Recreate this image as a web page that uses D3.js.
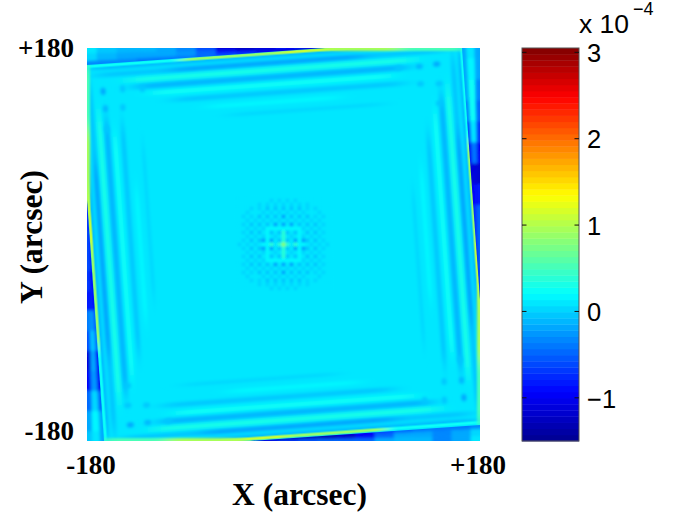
<!DOCTYPE html>
<html><head><meta charset="utf-8">
<style>html,body{margin:0;padding:0;background:#fff;overflow:hidden}svg{display:block}</style>
<script src="https://cdn.jsdelivr.net/npm/d3@7"></script></head><body>
<svg id="c" width="683" height="513"></svg>
<script>
// ---- data (arcsec / units of 1e-4) ----
const xDomain = [-180, 180];
const yDomain = [-180, 180];
const colorDomain = [-1.5, 3.05];
const colorTicks = [-1, 0, 1, 2, 3];
const baseValue = 0.07;
const tiltDegrees = 4.1;
const squareHalf = 176.8;

// bands parallel to each side of the tilted square
const bandDepth = [3.5, 10, 10, 16.5, 23, 30, 37.5, 46, 55];
const bandWidth = [3.5, 4.5, 4.5, 4, 5, 4, 4, 4, 3];
const bandFrom  = [-165, -160, -90, -130, -125, -110, -90, -60, -40];
const bandTo    = [165, 160, 85, 130, 125, 110, 120, 60, 100];
const bandValue = [-0.13, -0.06, -0.22, 0.32, -0.08, 0.25, -0.03, 0.17, 0.03];

// small dark spots close to each corner
const spotA = [22, 40, 23, 39, 58, 23];
const spotB = [25, 24, 41, 41, 25, 60];
const spotValue = [-0.18, -0.06, -0.14, -0.05, -0.02, -0.06];

// thin line right on the tilted edge
const rimFrom  = [-172, -80, 10];
const rimTo    = [-80, 10, 80];
const rimValue = [0.25, 0.85, 1.1];

// glow on the plot frame beyond each wedge tip
const glowFrom  = [38, 105];
const glowTo    = [105, 165];
const glowValue = [0.95, 0.5];

// wedge outside the tilted square: corner points in arcsec, then three rows of values along it
const wedgeEdgeStart = [[-180, 164.4], [163.5, 180], [180, -165.3], [-164.4, -180]];
const wedgeEdgeEnd   = [[38, 180], [180, -50.8], [-30.7, -180], [-180, 40.8]];
const wedgeTipBase   = [[-180, 180], [180, 180], [180, -180], [-180, -180]];
const wedgeTopNear  = [-.35,-.35,-.35,-.38,-.38,-.4,-.5,-.6,-.7,-.9,-1.1,-1.3,-1.35];
const wedgeTopMid   = [.05,-.1,-.15,-.18,-.2,-.28,-.45,-.8,-1.0,-1.1,-1.2,-1.2,-1.3];
const wedgeTopFar   = [.12,-.05,-.12,-.12,-.15,-.35,-.6,-1.1,-1.25,-1.1,-.9,-.8,-.7];
const wedgeRightNear = [-.15,-.15,-.2,-.3,-.7,-1.0,-1.1,-1.0,-.9,-.9,-.9,-.9,-.9];
const wedgeRightMid  = [.1,.2,.25,.25,.1,-.4,-1.1,-.9,-.6,-.6,-.7,-.7,-.8];
const wedgeRightFar  = [-.15,-.2,-.3,-.45,-.7,-1.0,-1.15,-.8,-.45,-.45,-.5,-.6,-.7];
const wedgeBottomNear = [-.35,-.38,-.4,-.4,-.45,-.6,-1.0,-1.2,-1.3,-1.35,-1.3,-1.3,-1.3];
const wedgeBottomMid  = [0,-.2,-.3,-.2,-.2,-.45,-1.0,-1.2,-1.25,-1.2,-1.2,-1.2,-1.2];
const wedgeBottomFar  = [.12,-.2,-.35,-.12,-.08,-.2,-.5,-.5,-.5,-.55,-.7,-.8,-.9];
const wedgeLeftNear = [-.2,-.2,-.45,-1.0,-1.0,-.45,-.55,-.9,-1.0,-.9,-.8,-.9,-.9];
const wedgeLeftMid  = [.12,.15,.05,-.25,-.15,-.05,-.25,-.8,-.8,-.7,-.7,-.8,-.9];
const wedgeLeftFar  = [-.05,-.2,-.5,-1.0,-1.1,-.6,-.4,-.8,-.7,-.6,-.6,-.7,-.9];

// central pattern: upper half of a cell grid, lower half is its mirror
const moireCell = 3.66;
const moireTop = [
 ".........................",
 ".........-.-.-.-.........",
 "......-.-.-.-.-.-.-......",
 "....-.-.=.=.=.=.=.-.-....",
 "...-...-.-.-.-.-.-...-...",
 "..-.-.=.=.=.#.=.=.=.-.-..",
 "...-.-.-.-.-.-.-.-.-.-...",
 "..-.=.=.=.#.#.#.=.=.=.-..",
 "...-.-.-+++++++++-.-.-...",
 "..-.=.=.+=.=o=.=+.=.=.-..",
 "...-.-.-+.-.o.-.+-.-.-...",
 "..-.=.=#+#.=o=.#+#=.=.-..",
 ".-.-.-.++o.o*o.o++.-.-.-."
];
const moireLevels = {".":0.07, "-":0.03, "=":-0.05, "#":-0.15, "+":0.15, "o":0.35, "*":0.8};

// text
const xTickLabels = ["-180", "+180"];
const yTickLabels = ["-180", "+180"];
const xTitle = "X (arcsec)";
const yTitle = "Y (arcsec)";

// ---- scales ----
const plot = {l:87, r:480, t:48, b:441};
const x = d3.scaleLinear().domain(xDomain).range([plot.l, plot.r]);
const y = d3.scaleLinear().domain(yDomain).range([plot.b, plot.t]);
const cx = x(0), cy = y(0);
const jet = d3.scaleLinear()
  .domain([0, .125, .375, .625, .875, 1])
  .range(["#00008f", "#0000ff", "#00ffff", "#ffff00", "#ff0000", "#800000"])
  .interpolate(d3.interpolateRgb);
const levels = d3.range(64).map(i => jet((i + .5) / 64));
const color = d3.scaleQuantize().domain(colorDomain).range(levels);

const svg = d3.select("#c");
const defs = svg.append("defs");
function blur(id, s) {
  defs.append("filter").attr("id", id).attr("filterUnits", "userSpaceOnUse")
    .attr("x", -200).attr("y", -200).attr("width", 1100).attr("height", 1000)
    .append("feGaussianBlur").attr("stdDeviation", s);
}
blur("band", "10 1.5"); blur("spot", "1.4"); blur("moire", "1.0"); blur("rim", "6 0.6");
blur("glow", "8 0.9"); blur("wedge", "1.6");
defs.append("clipPath").attr("id", "plotClip").append("rect")
  .attr("x", plot.l).attr("y", plot.t).attr("width", plot.r - plot.l).attr("height", plot.b - plot.t);

const field = svg.append("g").attr("clip-path", "url(#plotClip)");
field.append("rect").attr("x", plot.l).attr("y", plot.t)
  .attr("width", plot.r - plot.l).attr("height", plot.b - plot.t).attr("fill", color(baseValue));

const quarterTurns = [0, 90, 180, 270];
const tilted = field.append("g").attr("transform", `rotate(${-tiltDegrees},${cx},${cy})`);

// bands
quarterTurns.forEach(a => {
  const g = tilted.append("g").attr("transform", `rotate(${a},${cx},${cy})`).append("g").attr("filter", "url(#band)");
  g.selectAll("rect").data(bandDepth).join("rect")
    .attr("x", (d, i) => x(bandFrom[i]))
    .attr("width", (d, i) => x(bandTo[i]) - x(bandFrom[i]))
    .attr("y", (d, i) => y(squareHalf - d) - (x(bandWidth[i]) - x(0)) / 2)
    .attr("height", (d, i) => x(bandWidth[i]) - x(0))
    .attr("fill", (d, i) => color(bandValue[i]));
});
// corner spots
quarterTurns.forEach(a => {
  const g = tilted.append("g").attr("transform", `rotate(${a},${cx},${cy})`).append("g").attr("filter", "url(#spot)");
  g.selectAll("ellipse").data(spotA).join("ellipse")
    .attr("cx", d => x(-squareHalf + d))
    .attr("cy", (d, i) => y(squareHalf - spotB[i]))
    .attr("rx", 2.6).attr("ry", 3.6)
    .attr("fill", (d, i) => color(spotValue[i]));
});

// central pattern
const moire = moireTop.concat(moireTop.slice(0, 12).reverse());
const cellPx = x(moireCell) - x(0);
const mg = field.append("g").attr("filter", "url(#moire)");
moire.forEach((row, r) => {
  mg.append("g").selectAll("rect").data(row.split("")).join("rect")
    .attr("x", (d, c) => x((c - 12.5) * moireCell))
    .attr("y", y((12.5 - r) * moireCell))
    .attr("width", cellPx + .3).attr("height", cellPx + .3)
    .attr("fill", d => color(moireLevels[d]));
});

// edge line
quarterTurns.forEach(a => {
  const g = tilted.append("g").attr("transform", `rotate(${a},${cx},${cy})`).append("g").attr("filter", "url(#rim)");
  g.selectAll("rect").data(rimFrom).join("rect")
    .attr("x", d => x(d))
    .attr("width", (d, i) => x(rimTo[i]) - x(d))
    .attr("y", y(squareHalf))
    .attr("height", 3)
    .attr("fill", (d, i) => color(rimValue[i]));
});
// frame glow
quarterTurns.forEach(a => {
  const g = field.append("g").attr("transform", `rotate(${a},${cx},${cy})`).append("g").attr("filter", "url(#glow)");
  g.selectAll("rect").data(glowFrom).join("rect")
    .attr("x", d => x(d))
    .attr("width", (d, i) => x(glowTo[i]) - x(d))
    .attr("y", y(180) - 5)
    .attr("height", 8)
    .attr("fill", (d, i) => color(glowValue[i]));
});

// wedges
const wedgeRows = [
  [wedgeTopNear, wedgeTopMid, wedgeTopFar],
  [wedgeRightNear, wedgeRightMid, wedgeRightFar],
  [wedgeBottomNear, wedgeBottomMid, wedgeBottomFar],
  [wedgeLeftNear, wedgeLeftMid, wedgeLeftFar]
];
const rowBreaks = [0, .25, .7, 1];
const px = p => [x(p[0]), y(p[1])];
wedgeRows.forEach((rows, w) => {
  const e0 = px(wedgeEdgeStart[w]), e1 = px(wedgeEdgeEnd[w]);
  const tipBase = px(wedgeTipBase[w]);
  const vertical = w % 2 === 1;
  const onFrame = p => vertical ? [tipBase[0], p[1]] : [p[0], tipBase[1]];
  const n = rows[0].length - 1;
  const clipId = "wedgeClip" + w;
  const tri = [e0, e1, onFrame(e0)];
  defs.append("clipPath").attr("id", clipId).append("polygon")
    .attr("points", tri.map(p => p.join(",")).join(" "));
  const g = field.append("g").attr("clip-path", `url(#${clipId})`).append("g").attr("filter", "url(#wedge)");
  const outward = vertical ? Math.sign(tipBase[0] - cx) : Math.sign(tipBase[1] - cy);
  const point = (f, t) => {
    const ff = Math.min(1.15, Math.max(-.15, f));
    const p = [e0[0] + (e1[0] - e0[0]) * ff, e0[1] + (e1[1] - e0[1]) * ff];
    const q = onFrame(p);
    const r = [p[0] + (q[0] - p[0]) * t, p[1] + (q[1] - p[1]) * t];
    const extra = t === 0 ? -8 : t === 1 ? 8 : 0;
    if (vertical) r[0] += outward * extra; else r[1] += outward * extra;
    return r;
  };
  rows.forEach((vals, j) => {
    const t0 = rowBreaks[j], t1 = rowBreaks[j + 1];
    vals.forEach((v, i) => {
      const f0 = (i - .5) / n, f1 = (i + .5) / n;
      const pts = [point(f0, t0), point(f1, t0), point(f1, t1), point(f0, t1)];
      g.append("polygon").attr("points", pts.map(p => p.join(",")).join(" "))
        .attr("fill", color(v)).attr("stroke", color(v)).attr("stroke-width", .4);
    });
  });
});

// labels on the left and bottom
const serif = "'Liberation Serif','Times New Roman',serif";
const sans = "'Liberation Sans',Arial,sans-serif";
const label = (t, px_, py_, anchor, size, fam, weight) => svg.append("text").text(t)
  .attr("x", px_).attr("y", py_).attr("text-anchor", anchor)
  .attr("font-size", size).attr("font-family", fam).attr("font-weight", weight).attr("fill", "#000");
label(yTickLabels[1], x(-180) - 13, y(180) + 9, "end", 27, serif, "bold");
label(yTickLabels[0], x(-180) - 13, y(-180) - 1, "end", 27, serif, "bold");
label(xTickLabels[0], x(-180) + 4, 474, "middle", 27, serif, "bold");
label(xTickLabels[1], x(180) - 2, 474, "middle", 27, serif, "bold");
label(xTitle, 299.5, 505, "middle", 31.5, serif, "bold");
svg.append("text").text(yTitle)
  .attr("transform", `translate(42,237) rotate(-90)`).attr("text-anchor", "middle")
  .attr("font-size", 31.5).attr("font-family", serif).attr("font-weight", "bold");

// colour bar
const bar = {l:522, r:579};
const cy2 = d3.scaleLinear().domain(colorDomain).range([plot.b, plot.t]);
const barG = svg.append("g");
barG.selectAll("rect").data(levels).join("rect")
  .attr("x", bar.l).attr("width", bar.r - bar.l)
  .attr("y", (d, i) => plot.b - (i + 1) * (plot.b - plot.t) / 64)
  .attr("height", (plot.b - plot.t) / 64 + .4)
  .attr("fill", d => d);
barG.append("rect").attr("x", bar.l).attr("y", plot.t).attr("width", bar.r - bar.l)
  .attr("height", plot.b - plot.t).attr("fill", "none").attr("stroke", "#555").attr("stroke-width", 1);
const barAxis = d3.axisRight(cy2).tickValues(colorTicks).tickSize(0)
  .tickFormat(d => (d < 0 ? "\u2212" + (-d) : d));
const ax = svg.append("g").attr("transform", `translate(${bar.r},0)`).call(barAxis);
ax.select(".domain").remove();
ax.selectAll("text").attr("x", 8).attr("dy", "0.36em").attr("font-size", 25.5)
  .attr("font-family", sans).attr("fill", "#000");
colorTicks.forEach(t => {
  [[bar.l, bar.l + 4.5], [bar.r - 4.5, bar.r]].forEach(s => {
    svg.append("line").attr("x1", s[0]).attr("x2", s[1]).attr("y1", cy2(t)).attr("y2", cy2(t))
      .attr("stroke", "#111").attr("stroke-width", 1);
  });
});
label("x 10", 579, 33, "start", 26.5, sans, "normal");
label("\u22124", 633, 15, "start", 18, sans, "normal");
</script>
</body></html>
